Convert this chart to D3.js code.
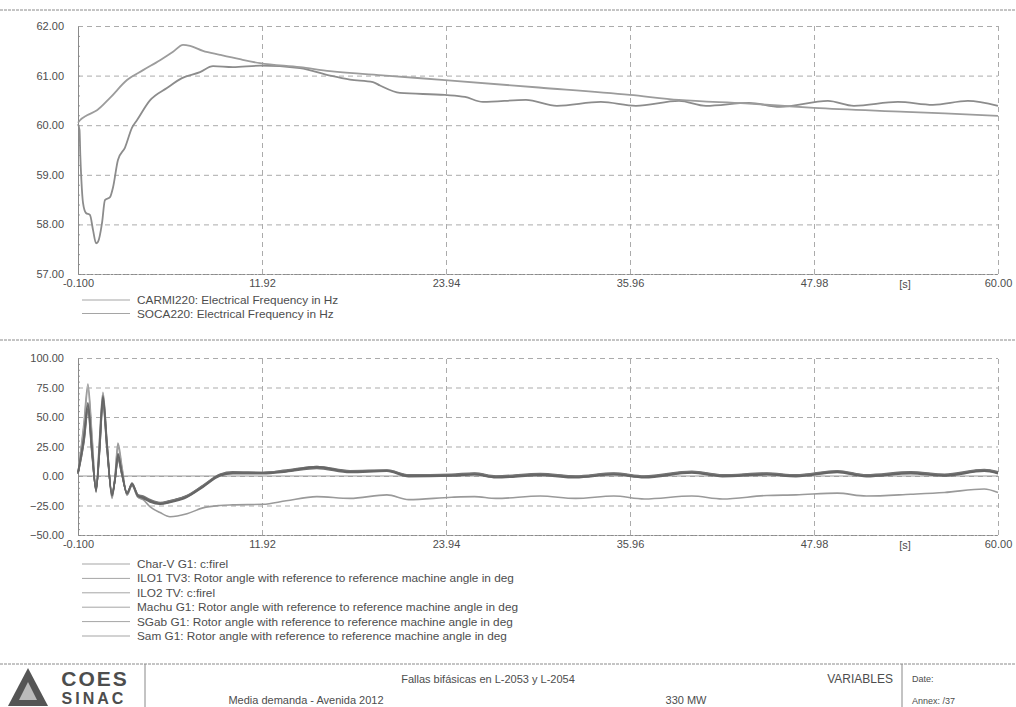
<!DOCTYPE html>
<html>
<head>
<meta charset="utf-8">
<script src="https://cdn.jsdelivr.net/npm/d3@7"></script>
<style>
  body { margin: 0; background: #fff; }
  text { font-family: "Liberation Sans", Arial, sans-serif; fill: #4d4d4d; }
</style>
</head>
<body>
<svg width="1016" height="707"></svg>
<script>
// shared time axis [s]
const xTicks = [-0.1, 11.92, 23.94, 35.96, 47.98, 60.0];
const xTickLabels = ['-0.100', '11.92', '23.94', '35.96', '47.98', '60.00'];

// upper plot: electrical frequency in Hz
const freqTicks = [57, 58, 59, 60, 61, 62];
const carmiT = [-0.1, 0, 0.05, 0.12, 0.23, 0.42, 0.68, 0.88, 1.08, 1.21, 1.47, 1.66, 1.99, 2.19, 2.51, 2.97, 3.43, 3.75, 4.6, 5.71,
  6.69, 7.87, 8.72, 10.02, 11.79, 14.4, 16.36, 17.67, 19.17, 19.63, 20.93, 23.87, 25.18, 26.35, 29.16, 31.19, 34.06, 36.35, 39.16, 40.92,
  43.73, 45.75, 48.89, 50.59, 53.46, 55.75, 58.03, 60];
const carmiHz = [60.02, 59.9, 59.4, 58.9, 58.43, 58.23, 58.19, 57.89, 57.62, 57.65, 58.03, 58.49, 58.55, 58.75, 59.3, 59.55, 59.95, 60.1, 60.5, 60.75,
  60.95, 61.07, 61.19, 61.17, 61.2, 61.15, 61.0, 60.92, 60.87, 60.8, 60.65, 60.61, 60.57, 60.47, 60.51, 60.39, 60.47, 60.39, 60.49, 60.39,
  60.45, 60.37, 60.49, 60.39, 60.47, 60.41, 60.49, 60.39];
const socaT = [-0.1, 0.03, 0.49, 1.14, 1.99, 3.1, 4.15, 5.26, 6.11, 6.76, 7.22, 8.06, 9.17, 10.48, 11.79, 14.4, 16.36, 20.0, 23.87, 30.0,
  35.95, 39.16, 43.5, 47.97, 54.0, 60];
const socaHz = [60.05, 60.1, 60.2, 60.3, 60.55, 60.91, 61.11, 61.31, 61.48, 61.62, 61.6, 61.5, 61.42, 61.33, 61.25, 61.17, 61.09, 61.0, 60.91, 60.76,
  60.61, 60.51, 60.44, 60.35, 60.27, 60.19];
const freqLegend = ['CARMI220: Electrical Frequency in Hz', 'SOCA220: Electrical Frequency in Hz'];

// lower plot: rotor angles in deg
const angleTicks = [-50, -25, 0, 25, 50, 75, 100];
const rotorT = [-0.1, 0.29, 0.55, 0.81, 1.08, 1.3, 1.53, 1.79, 2.12, 2.32, 2.51, 2.77, 3.1, 3.43, 3.82, 4.15, 4.6, 5.26, 5.91, 7.02,
  8.06, 9.17, 10.02, 11.98, 13.5, 15.5, 17.67, 20.08, 21.5, 24.3, 25.8, 27.2, 30.1, 32.4, 34.9, 36.9, 40.0, 42.0, 44.9, 46.8,
  49.5, 51.4, 54.3, 56.5, 59.1, 60];
const charV = [2, 30, 57, 20, -11, 20, 63, 24, -15, -3, 15, 1, -14, -7, -16, -18, -20.5, -23, -21, -16.5,
  -8, 1.5, 3.5, 3, 5, 8, 4.5, 5, 1, 1.5, 2.5, 0, 2, 0, 2.5, 0, 4, 1, 2.5, 1, 4.5, 1, 3.5, 1.5, 5.5, 3.5];
const ilo1 = [3, 34, 62, 24, -13, 24, 68, 28, -17, -2, 19, 3, -15, -6, -17, -19, -22, -24, -22.5, -18,
  -9.5, 0, 2, 2, 3.5, 6.5, 3, 4, -0.5, 0, 1, -1.5, 0.5, -1.5, 1, -1.5, 2.5, -0.5, 1, -0.5, 3, -0.5, 2, 0, 4, 2];
const ilo2 = [2, 29, 55, 19, -11, 19, 62, 23, -14, -3, 14, 1, -14, -8, -16, -17, -20, -22.5, -21, -17,
  -8.5, 1, 3, 3, 4.5, 7, 4, 4.5, 0.5, 1, 2, -0.5, 1.5, -0.5, 2, -0.5, 3.5, 0.5, 2, 0.5, 4, 0.5, 3, 1, 5, 3];
const machu = [3, 32, 60, 22, -12, 22, 66, 26, -16, -3, 17, 2, -15, -7, -17, -18, -21, -23.5, -22, -17.5,
  -9, 0.8, 2.5, 2.5, 4, 7.5, 3.5, 4.5, 0, 0.5, 1.5, -1, 1, -1, 1.5, -1, 3, 0, 1.5, 0, 3.5, 0, 2.5, 0.5, 4.5, 2.5];
const sgab = [2, 42, 74, 32, -13, 28, 69, 29, -18, -1, 25, 6, -16, -8, -18, -19, -21, -23, -21.5, -17,
  -8.5, 1, 3, 2.5, 4.5, 8, 4, 5, 0.5, 1, 2, -0.5, 1.5, -0.5, 2, -0.5, 3.5, 0.5, 2, 0.5, 4, 0.5, 3, 1, 5, 3];
const sam = [2, 45, 78, 35, -14, 30, 71, 30, -19, 0, 28, 8, -16, -8, -18, -20, -26, -31, -34.5, -32,
  -27, -25, -24.5, -24, -21, -17.5, -19, -16, -20, -18, -17.5, -19, -17, -19, -17, -19.5, -17, -19.5, -16.5, -16,
  -14.5, -17, -15.5, -14, -11, -14];
const rotorLegend = [
  'Char-V G1: c:firel',
  'ILO1 TV3: Rotor angle with reference to reference machine angle in deg',
  'ILO2 TV: c:firel',
  'Machu G1: Rotor angle with reference to reference machine angle in deg',
  'SGab G1: Rotor angle with reference to reference machine angle in deg',
  'Sam G1: Rotor angle with reference to reference machine angle in deg'
];

const svg = d3.select('svg');
const left = 78, right = 998;

const x = d3.scaleLinear().domain([-0.1, 60]).range([left, right]);
const yF = d3.scaleLinear().domain([57, 62]).range([274, 26]);
const yA = d3.scaleLinear().domain([-50, 100]).range([535, 358]);

// page separator lines
[10, 340, 664].forEach(yy => {
  svg.append('line')
    .attr('x1', 0).attr('x2', 1016).attr('y1', yy).attr('y2', yy)
    .attr('stroke', '#8a8a8a').attr('stroke-width', 1)
    .attr('stroke-dasharray', '3,1');
});

function drawPanel(y, yTicks, zeroLine) {
  const top = y.range()[1], bottom = y.range()[0];
  const g = svg.append('g');

  // horizontal grid
  g.append('g')
    .attr('transform', `translate(${left},0)`)
    .call(d3.axisLeft(y).tickValues(yTicks).tickSize(-(right - left)).tickFormat(''))
    .call(a => a.select('.domain').remove())
    .call(a => a.selectAll('line')
      .attr('stroke', '#ababab').attr('stroke-dasharray', '5,4'));

  // vertical grid
  g.append('g')
    .attr('transform', `translate(0,${bottom})`)
    .call(d3.axisBottom(x).tickValues(xTicks.slice(1)).tickSize(-(bottom - top)).tickFormat(''))
    .call(a => a.select('.domain').remove())
    .call(a => a.selectAll('line')
      .attr('stroke', '#ababab').attr('stroke-dasharray', '5,4'));

  if (zeroLine) {
    g.append('line')
      .attr('x1', left).attr('x2', right).attr('y1', y(0)).attr('y2', y(0))
      .attr('stroke', '#9a9a9a').attr('stroke-width', 1);
  }

  // y axis with minor ticks and labels
  const step = yTicks[1] - yTicks[0];
  const minor = d3.range(yTicks[0], yTicks[yTicks.length - 1], step / 5).slice(1);
  g.append('g')
    .attr('transform', `translate(${left},0)`)
    .call(d3.axisRight(y).tickValues(minor).tickSize(2).tickFormat(''))
    .call(a => a.select('.domain').remove())
    .call(a => a.selectAll('line').attr('stroke', '#999'));
  g.append('g')
    .attr('transform', `translate(${left},0)`)
    .call(d3.axisLeft(y).tickValues(yTicks).tickSize(0).tickPadding(14).tickFormat(d3.format('.2f')))
    .call(a => a.select('.domain').attr('stroke', '#8a8a8a'))
    .call(a => a.selectAll('text').style('font-size', '11px').attr('fill', '#4d4d4d'));

  // x axis with labels
  g.append('g')
    .attr('transform', `translate(0,${bottom})`)
    .call(d3.axisBottom(x).tickValues(xTicks).tickSize(0).tickPadding(5)
      .tickFormat((d, i) => xTickLabels[i]))
    .call(a => a.select('.domain').attr('stroke', '#8a8a8a').attr('stroke-dasharray', '3,1'))
    .call(a => a.selectAll('text').style('font-size', '11px').attr('fill', '#4d4d4d'));

  g.append('text')
    .attr('x', 905).attr('y', bottom + 14)
    .attr('text-anchor', 'middle')
    .style('font-size', '11px')
    .text('[s]');
  return g;
}

drawPanel(yF, freqTicks, false);
drawPanel(yA, angleTicks, true);

// curves
const lineF = d3.line().x(d => x(d[0])).y(d => yF(d[1])).curve(d3.curveMonotoneX);
const lineA = d3.line().x(d => x(d[0])).y(d => yA(d[1])).curve(d3.curveMonotoneX);

const freqSeries = [
  { t: carmiT, v: carmiHz, color: '#8c8c8c' },
  { t: socaT, v: socaHz, color: '#9c9c9c' }
];
svg.append('g').selectAll('path')
  .data(freqSeries)
  .join('path')
  .attr('d', s => lineF(d3.zip(s.t, s.v)))
  .attr('fill', 'none')
  .attr('stroke', s => s.color)
  .attr('stroke-width', 1.8);

const rotorSeries = [
  { v: sam, color: '#9a9a9a' },
  { v: sgab, color: '#a0a0a0' },
  { v: charV, color: '#707070' },
  { v: ilo1, color: '#6a6a6a' },
  { v: ilo2, color: '#777777' },
  { v: machu, color: '#656565' }
];
svg.append('g').selectAll('path')
  .data(rotorSeries)
  .join('path')
  .attr('d', s => lineA(d3.zip(rotorT, s.v)))
  .attr('fill', 'none')
  .attr('stroke', s => s.color)
  .attr('stroke-width', 1.6);

// legends
function legend(labels, y0, dy) {
  const g = svg.append('g');
  labels.forEach((lab, i) => {
    const yy = y0 + i * dy;
    g.append('line')
      .attr('x1', 82).attr('x2', 130).attr('y1', yy).attr('y2', yy)
      .attr('stroke', '#a5a5a5').attr('stroke-width', 1);
    g.append('text')
      .attr('x', 137).attr('y', yy + 4)
      .style('font-size', '11.8px')
      .text(lab);
  });
}
legend(freqLegend, 300, 13.5);
legend(rotorLegend, 564, 14.4);

// footer
const foot = svg.append('g');
foot.append('line').attr('x1', 145).attr('x2', 145).attr('y1', 664).attr('y2', 707)
  .attr('stroke', '#888');
foot.append('line').attr('x1', 902).attr('x2', 902).attr('y1', 664).attr('y2', 707)
  .attr('stroke', '#888');

// COES SINAC logo
foot.append('path')
  .attr('d', 'M8,706 L28,668 L48,706 Z')
  .attr('fill', '#555');
foot.append('path')
  .attr('d', 'M19,700 L28,682 L37,700 Z')
  .attr('fill', '#bbb');
foot.append('text').attr('x', 95).attr('y', 686)
  .attr('text-anchor', 'middle')
  .style('font-size', '21px').style('font-weight', 'bold').style('letter-spacing', '2px')
  .attr('fill', '#3c3c3c')
  .text('COES');
foot.append('text').attr('x', 94).attr('y', 704)
  .attr('text-anchor', 'middle')
  .style('font-size', '16px').style('font-weight', 'bold').style('letter-spacing', '3px')
  .attr('fill', '#3c3c3c')
  .text('SINAC');

foot.append('text').attr('x', 488).attr('y', 683)
  .attr('text-anchor', 'middle').style('font-size', '11px')
  .text('Fallas bifásicas en L-2053 y L-2054');
foot.append('text').attr('x', 893).attr('y', 683)
  .attr('text-anchor', 'end').style('font-size', '12px')
  .text('VARIABLES');
foot.append('text').attr('x', 912).attr('y', 682)
  .style('font-size', '9px')
  .text('Date:');
foot.append('text').attr('x', 306).attr('y', 704)
  .attr('text-anchor', 'middle').style('font-size', '11px')
  .text('Media demanda - Avenida 2012');
foot.append('text').attr('x', 686).attr('y', 704)
  .attr('text-anchor', 'middle').style('font-size', '11px')
  .text('330 MW');
foot.append('text').attr('x', 912).attr('y', 704)
  .style('font-size', '9px')
  .text('Annex:  /37');
</script>
</body>
</html>
